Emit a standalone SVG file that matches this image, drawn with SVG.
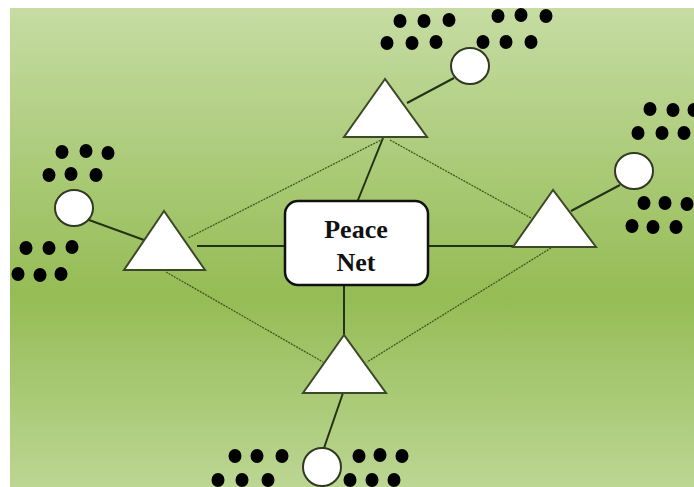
<svg xmlns="http://www.w3.org/2000/svg" width="694" height="487" viewBox="0 0 694 487">
<defs>
<linearGradient id="bg" x1="0" y1="0" x2="0" y2="1">
<stop offset="0" stop-color="#c6dca3"/>
<stop offset="0.6" stop-color="#95bc55"/>
<stop offset="1" stop-color="#bcd693"/>
</linearGradient>
<style>
.tri{fill:#ffffff;stroke:#3b4a26;stroke-width:2}
.node-c{fill:#ffffff;stroke:#2f3a20;stroke-width:2}
.dot{fill:#000000}
.solid{stroke:#233214;stroke-width:2;fill:none}
.thin{stroke:#3e5a1c;stroke-width:1.3;stroke-dasharray:2 1;fill:none}
.lbl{font-family:"Liberation Serif","Times New Roman",serif;font-weight:bold;font-size:26px;fill:#111111;text-anchor:middle}
</style>
</defs>
<rect x="0" y="0" width="694" height="487" fill="#ffffff"/>
<rect x="10" y="8" width="684" height="479" fill="url(#bg)"/>
<g id="connectors">
<line class="solid" x1="358" y1="200" x2="383" y2="138"/>
<line class="solid" x1="407" y1="103" x2="454" y2="78"/>
<line class="solid" x1="89" y1="220" x2="144" y2="240"/>
<line class="solid" x1="197" y1="246" x2="284" y2="246"/>
<line class="solid" x1="428" y1="246" x2="513" y2="246"/>
<line class="solid" x1="571" y1="211" x2="620" y2="185"/>
<line class="solid" x1="344" y1="286" x2="344" y2="335"/>
<line class="solid" x1="343" y1="393" x2="324" y2="448"/>
<line class="thin" x1="383" y1="139" x2="188" y2="238"/>
<line class="thin" x1="390" y1="140" x2="531" y2="218"/>
<line class="thin" x1="166" y1="272" x2="323" y2="362"/>
<line class="thin" x1="551" y1="248" x2="367" y2="362"/>
</g>
<g id="peace-net">
<rect x="285" y="201" width="143" height="84" rx="13" ry="13" fill="#ffffff" stroke="#111111" stroke-width="2.5"/>
<text class="lbl" x="356" y="238">Peace</text>
<text class="lbl" x="356" y="271">Net</text>
</g>
<g id="tri-top"><polygon class="tri" points="385,79 344,137 427,137"/></g>
<g id="tri-left"><polygon class="tri" points="164,211 124,270 205,270"/></g>
<g id="tri-right"><polygon class="tri" points="553,190 513,247 596,247"/></g>
<g id="tri-bottom"><polygon class="tri" points="344,335 303,393 386,393"/></g>
<g id="circle-top"><ellipse class="node-c" cx="470" cy="66" rx="19" ry="18"/></g>
<g id="circle-left"><ellipse class="node-c" cx="74" cy="208" rx="19" ry="18"/></g>
<g id="circle-right"><ellipse class="node-c" cx="634" cy="171" rx="19" ry="18"/></g>
<g id="circle-bottom"><ellipse class="node-c" cx="322" cy="467" rx="19" ry="19"/></g>
<g id="dots-top">
<ellipse class="dot" cx="400" cy="21" rx="6.5" ry="7"/><ellipse class="dot" cx="424" cy="21" rx="6.5" ry="7"/><ellipse class="dot" cx="449" cy="20" rx="6.5" ry="7"/>
<ellipse class="dot" cx="387" cy="43" rx="6.5" ry="7"/><ellipse class="dot" cx="412" cy="43" rx="6.5" ry="7"/><ellipse class="dot" cx="436" cy="42" rx="6.5" ry="7"/>
<ellipse class="dot" cx="498" cy="16" rx="6.5" ry="7"/><ellipse class="dot" cx="521" cy="15" rx="6.5" ry="7"/><ellipse class="dot" cx="546" cy="16" rx="6.5" ry="7"/>
<ellipse class="dot" cx="483" cy="42" rx="6.5" ry="7"/><ellipse class="dot" cx="506" cy="42" rx="6.5" ry="7"/><ellipse class="dot" cx="531" cy="42" rx="6.5" ry="7"/>
</g>
<g id="dots-left">
<ellipse class="dot" cx="62" cy="152" rx="6.5" ry="7"/><ellipse class="dot" cx="86" cy="151" rx="6.5" ry="7"/><ellipse class="dot" cx="108" cy="153" rx="6.5" ry="7"/>
<ellipse class="dot" cx="49" cy="175" rx="6.5" ry="7"/><ellipse class="dot" cx="71" cy="174" rx="6.5" ry="7"/><ellipse class="dot" cx="96" cy="175" rx="6.5" ry="7"/>
<ellipse class="dot" cx="26" cy="248" rx="6.5" ry="7"/><ellipse class="dot" cx="49" cy="248" rx="6.5" ry="7"/><ellipse class="dot" cx="72" cy="247" rx="6.5" ry="7"/>
<ellipse class="dot" cx="18" cy="274" rx="6.5" ry="7"/><ellipse class="dot" cx="40" cy="275" rx="6.5" ry="7"/><ellipse class="dot" cx="61" cy="274" rx="6.5" ry="7"/>
</g>
<g id="dots-right">
<ellipse class="dot" cx="650" cy="109" rx="6.5" ry="7"/><ellipse class="dot" cx="673" cy="110" rx="6.5" ry="7"/><ellipse class="dot" cx="694" cy="110" rx="6.5" ry="7"/>
<ellipse class="dot" cx="638" cy="133" rx="6.5" ry="7"/><ellipse class="dot" cx="662" cy="133" rx="6.5" ry="7"/><ellipse class="dot" cx="684" cy="133" rx="6.5" ry="7"/>
<ellipse class="dot" cx="644" cy="203" rx="6.5" ry="7"/><ellipse class="dot" cx="665" cy="203" rx="6.5" ry="7"/><ellipse class="dot" cx="687" cy="204" rx="6.5" ry="7"/>
<ellipse class="dot" cx="632" cy="226" rx="6.5" ry="7"/><ellipse class="dot" cx="653" cy="227" rx="6.5" ry="7"/><ellipse class="dot" cx="676" cy="227" rx="6.5" ry="7"/>
</g>
<g id="dots-bottom">
<ellipse class="dot" cx="235" cy="456" rx="6.5" ry="7"/><ellipse class="dot" cx="257" cy="456" rx="6.5" ry="7"/><ellipse class="dot" cx="282" cy="456" rx="6.5" ry="7"/>
<ellipse class="dot" cx="218" cy="480" rx="6.5" ry="7"/><ellipse class="dot" cx="242" cy="480" rx="6.5" ry="7"/><ellipse class="dot" cx="268" cy="480" rx="6.5" ry="7"/>
<ellipse class="dot" cx="359" cy="456" rx="6.5" ry="7"/><ellipse class="dot" cx="380" cy="455" rx="6.5" ry="7"/><ellipse class="dot" cx="402" cy="456" rx="6.5" ry="7"/>
<ellipse class="dot" cx="350" cy="480" rx="6.5" ry="7"/><ellipse class="dot" cx="372" cy="480" rx="6.5" ry="7"/><ellipse class="dot" cx="394" cy="480" rx="6.5" ry="7"/>
</g>
</svg>
